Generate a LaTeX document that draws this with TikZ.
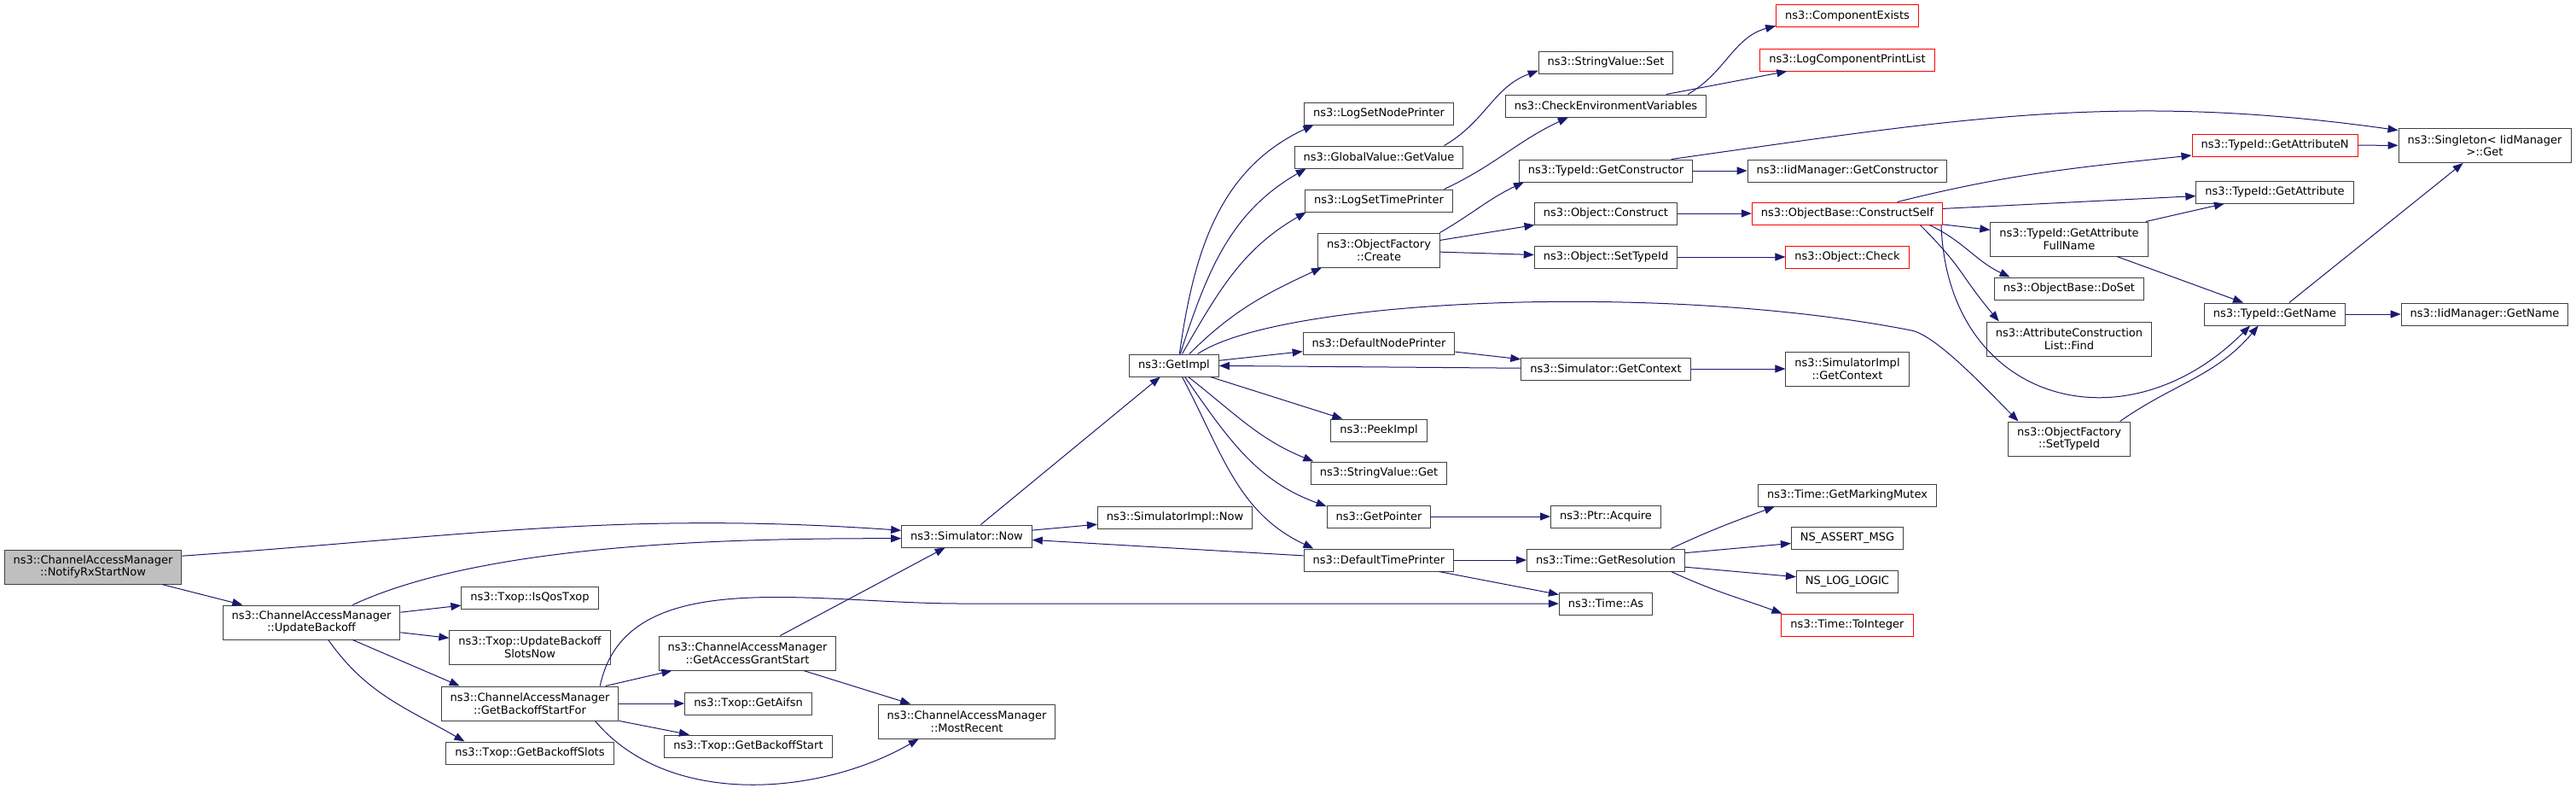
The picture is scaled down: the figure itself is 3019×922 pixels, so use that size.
\documentclass[tikz,border=0pt]{standalone}
\usepackage{fontspec}
\setmainfont{DejaVu Sans}
\usetikzlibrary{arrows.meta, positioning}
\definecolor{edgeblue}{RGB}{25,25,112}
\definecolor{nodegrey}{RGB}{64,64,64}

\begin{document}
\begin{tikzpicture}[x=1pt, y=1pt, >={Triangle[length=12pt, width=9pt]},
    font=\fontsize{13}{14.7}\selectfont,
    fn/.style={draw=nodegrey, line width=1pt, fill=white, align=center, inner xsep=10.5pt, inner ysep=0pt, minimum height=26pt},
    fntwo/.style={fn, minimum height=40pt},
    fnred/.style={fn, draw=red},
    fnroot/.style={fntwo, fill=black!25},
    call/.style={->, draw=edgeblue, line width=1pt}]
    \fill[white] (0,0) rectangle (3019,-922);
    \useasboundingbox (0,0) rectangle (3019,-922);

    % callers on the left
    \node[fnroot] (notify) at (109,-664) {ns3::ChannelAccessManager\\::NotifyRxStartNow};
    \node[fntwo] (upd) at (365,-729) {ns3::ChannelAccessManager\\::UpdateBackoff};
    \node[fn] (isqos) at (621,-700) {ns3::Txop::IsQosTxop};
    \node[fntwo] (slotsnow) at (621,-758) {ns3::Txop::UpdateBackoff\\SlotsNow};
    \node[fntwo] (startfor) at (621,-824) {ns3::ChannelAccessManager\\::GetBackoffStartFor};
    \node[fn] (slots) at (621,-882) {ns3::Txop::GetBackoffSlots};
    \node[fntwo] (grant) at (876,-765) {ns3::ChannelAccessManager\\::GetAccessGrantStart};
    \node[fn] (aifsn) at (877,-824) {ns3::Txop::GetAifsn};
    \node[fn] (bstart) at (877,-874) {ns3::Txop::GetBackoffStart};
    \node[fn] (simnow) at (1133,-628) {ns3::Simulator::Now};
    \node[fntwo] (recent) at (1133,-845) {ns3::ChannelAccessManager\\::MostRecent};
    \node[fn] (getimpl) at (1376,-428) {ns3::GetImpl};
    \node[fn] (implnow) at (1377,-606) {ns3::SimulatorImpl::Now};

    % GetImpl callees
    \node[fn] (nodeset) at (1616,-133) {ns3::LogSetNodePrinter};
    \node[fn] (getvalue) at (1616,-184) {ns3::GlobalValue::GetValue};
    \node[fn] (timeset) at (1616,-235) {ns3::LogSetTimePrinter};
    \node[fntwo] (create) at (1616,-293) {ns3::ObjectFactory\\::Create};
    \node[fn] (nodeprt) at (1616,-402) {ns3::DefaultNodePrinter};
    \node[fn] (peek) at (1616,-504) {ns3::PeekImpl};
    \node[fn] (svget) at (1616,-554) {ns3::StringValue::Get};
    \node[fn] (getptr) at (1616,-605) {ns3::GetPointer};
    \node[fn] (timeprt) at (1616,-656) {ns3::DefaultTimePrinter};

    \node[fn] (svset) at (1882,-73) {ns3::StringValue::Set};
    \node[fn] (checkenv) at (1882,-124) {ns3::CheckEnvironmentVariables};
    \node[fn] (getctor) at (1882,-200) {ns3::TypeId::GetConstructor};
    \node[fn] (construct) at (1882,-250) {ns3::Object::Construct};
    \node[fn] (objsettid) at (1882,-301) {ns3::Object::SetTypeId};
    \node[fn] (getcontext) at (1882,-432) {ns3::Simulator::GetContext};
    \node[fn] (acquire) at (1882,-605) {ns3::Ptr::Acquire};
    \node[fn] (getres) at (1882,-656) {ns3::Time::GetResolution};
    \node[fn] (tas) at (1882,-707) {ns3::Time::As};

    \node[fnred] (compexists) at (2165,-18.5) {ns3::ComponentExists};
    \node[fnred] (printlist) at (2165,-70) {ns3::LogComponentPrintList};
    \node[fn] (iidctor) at (2165,-200) {ns3::IidManager::GetConstructor};
    \node[fnred] (cself) at (2165,-250) {ns3::ObjectBase::ConstructSelf};
    \node[fnred] (objcheck) at (2165,-301) {ns3::Object::Check};
    \node[fntwo] (implctx) at (2165,-432) {ns3::SimulatorImpl\\::GetContext};
    \node[fn] (mutex) at (2165,-580) {ns3::Time::GetMarkingMutex};
    \node[fn] (assertmsg) at (2165,-630.5) {NS\_ASSERT\_MSG};
    \node[fn] (loglogic) at (2165,-681) {NS\_LOG\_LOGIC};
    \node[fnred] (tointeger) at (2165,-732) {ns3::Time::ToInteger};

    \node[fntwo] (fullname) at (2425,-280) {ns3::TypeId::GetAttribute\\FullName};
    \node[fn] (doset) at (2425,-338) {ns3::ObjectBase::DoSet};
    \node[fntwo] (aclfind) at (2425,-397) {ns3::AttributeConstruction\\List::Find};
    \node[fntwo] (settid) at (2425,-514) {ns3::ObjectFactory\\::SetTypeId};
    \node[fnred] (getattrn) at (2666,-170) {ns3::TypeId::GetAttributeN};
    \node[fn] (getattr) at (2666,-225) {ns3::TypeId::GetAttribute};
    \node[fn] (getname) at (2666,-368) {ns3::TypeId::GetName};
    \node[fntwo] (singleton) at (2912,-170.5) {ns3::Singleton< IidManager\\>::Get};
    \node[fn] (iidname) at (2912,-368) {ns3::IidManager::GetName};

    % calls
    \draw[call] (notify.7) to[out=4, in=176] (simnow.175);
    \draw[call] (notify) -- (upd);
    \draw[call] (upd.23) to[out=25, in=180, looseness=0.7] (simnow.182);
    \draw[call] (upd) -- (isqos);
    \draw[call] (upd) -- (slotsnow);
    \draw[call] (upd.-23) -- (startfor.166);
    \draw[call] (upd.-46) to[out=-55, in=150] (slots.170);
    \draw[call] (startfor.14) .. controls +(30,144) and +(-178,0) .. ([xshift=-700pt]tas.west) -- (tas.west);
    \draw[call] (startfor) -- (grant);
    \draw[call] (startfor) -- (aifsn);
    \draw[call] (startfor) -- (bstart);
    \draw[call] (startfor.-15) to[out=-50, in=-150, looseness=0.9] (recent.-160);
    \draw[call] (grant) -- (simnow);
    \draw[call] (grant) -- (recent);
    \draw[call] (simnow) -- (getimpl);
    \draw[call] (simnow) -- (implnow);
    \draw[call] (timeprt) -- (simnow);

    \draw[call] (getimpl.65) to[out=82, in=205] (nodeset.190);
    \draw[call] (getimpl.62) to[out=72, in=210] (getvalue.189);
    \draw[call] (getimpl.55) to[out=60, in=210] (timeset.189);
    \draw[call] (getimpl.37) to[out=45, in=205] (create.197);
    \draw[call] (getimpl.26) .. controls +(97,65) and +(-290,57) .. (2240,-387)
        .. controls +(30,-6) and +(-35,35) .. (settid.161);
    \draw[call] (getimpl) -- (nodeprt);
    \draw[call] (getcontext) -- (getimpl);
    \draw[call] (getimpl) -- (peek);
    \draw[call] (getimpl.-39) to[out=-38, in=158] (svget.170);
    \draw[call] (getimpl.-47) to[out=-55, in=160] (getptr.169);
    \draw[call] (getimpl.-55) to[out=-62, in=155] (timeprt.170);
    \draw[call] (nodeprt) -- (getcontext);
    \draw[call] (getcontext) -- (implctx);

    \draw[call] (getvalue.10) to[out=30, in=200] (svset.187);
    \draw[call] (timeset.10) to[out=25, in=205] (checkenv.197);
    \draw[call] (checkenv.8) to[out=30, in=195] (compexists.188);
    \draw[call] (checkenv) -- (printlist);
    \draw[call] (create.16) to[out=30, in=205] (getctor.188);
    \draw[call] (create) -- (construct);
    \draw[call] (create) -- (objsettid);
    \draw[call] (getctor) -- (iidctor);
    \draw[call] (getctor.10) to[out=8, in=172] (singleton.170);
    \draw[call] (construct) -- (cself);
    \draw[call] (objsettid) -- (objcheck);

    \draw[call] (cself.13) to[out=14, in=186] (getattrn.187);
    \draw[call] (cself) -- (getattr);
    \draw[call] (cself) -- (fullname);
    \draw[call] (cself.-8) to[out=-25, in=155] (doset.169);
    \draw[call] (cself.-9) to[out=-45, in=130, looseness=1.3] (aclfind.166);
    \draw[call] (cself.-7) to[out=-88, in=-135, looseness=1.4] (getname.-155);
    \draw[call] (getattrn) -- (singleton);
    \draw[call] (fullname) -- (getattr);
    \draw[call] (fullname) -- (getname);
    \draw[call] (getname) -- (singleton);
    \draw[call] (getname) -- (iidname);
    \draw[call] (settid.19) to[out=35, in=-130] (getname.-145);

    \draw[call] (timeprt) -- (getres);
    \draw[call] (timeprt) -- (tas);
    \draw[call] (getptr) -- (acquire);
    \draw[call] (getres.10) to[out=25, in=200] (mutex.189);
    \draw[call] (getres) -- (assertmsg);
    \draw[call] (getres) -- (loglogic);
    \draw[call] (getres.-10) to[out=-25, in=160] (tointeger.170);
\end{tikzpicture}
\end{document}
